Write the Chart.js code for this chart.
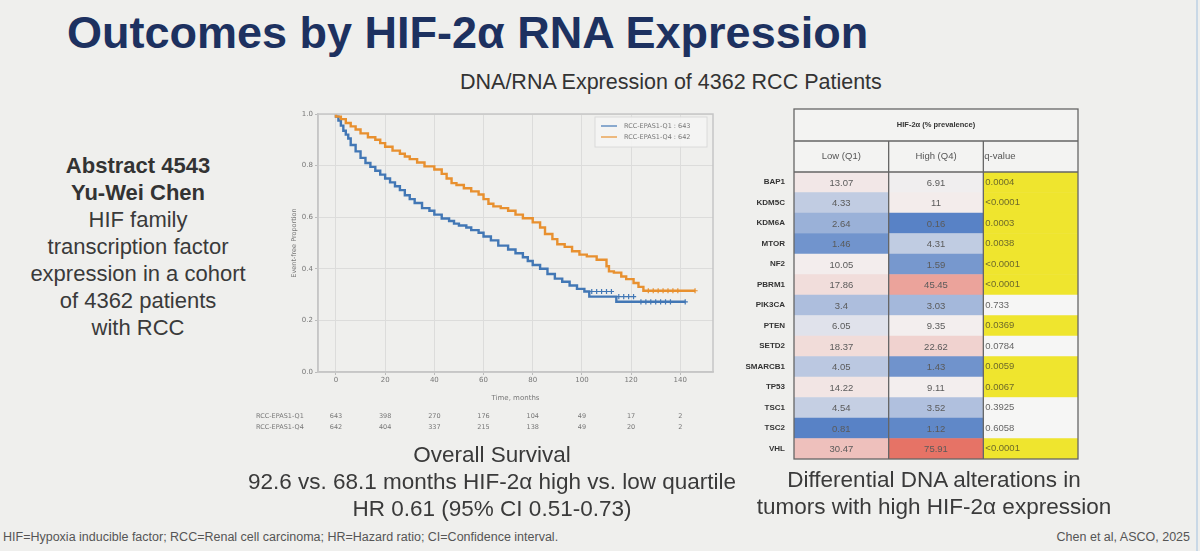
<!DOCTYPE html>
<html>
<head>
<meta charset="utf-8">
<script src="https://cdn.jsdelivr.net/npm/chart.js@4.4.1/dist/chart.umd.min.js"></script>
<style>
  body { margin: 0; width: 1200px; height: 551px; background: #efefed; position: relative; overflow: hidden;
         font-family: "Liberation Sans", Arial, sans-serif; color: #3a3a3a; }
  .abs { position: absolute; white-space: nowrap; }
  #title { left: 67px; top: 10px; font-size: 45px; line-height: 45px; font-weight: bold; color: #1d3160; }
  #subtitle { left: 460px; top: 72px; font-size: 21.5px; line-height: 21.5px; color: #333; }
  #abstract { left: 0; top: 152px; width: 276px; text-align: center; font-size: 22px; line-height: 27px; }
  #abstract b { color: #333; }
  #osCaption { left: 242px; top: 441px; width: 500px; text-align: center; font-size: 22.5px; line-height: 27px; }
  #dnaCaption { left: 734px; top: 466px; width: 400px; text-align: center; font-size: 22.5px; line-height: 27px; }
  #footLeft { left: 3px; top: 530px; font-size: 12.5px; color: #555; }
  #footRight { right: 10px; top: 530px; font-size: 12.5px; color: #555; }
  #km { position: absolute; left: 240px; top: 100px; }
  #heat { position: absolute; left: 740px; top: 100px; }
  #edge { position: absolute; left: 1196px; top: 0; width: 2px; height: 551px; background: #c9d8e6; }
</style>
</head>
<body>
<div id="title" class="abs">Outcomes by HIF-2α RNA Expression</div>
<div id="subtitle" class="abs">DNA/RNA Expression of 4362 RCC Patients</div>
<div id="abstract" class="abs"><b>Abstract 4543</b><br><b>Yu-Wei Chen</b><br>HIF family<br>transcription factor<br>expression in a cohort<br>of 4362 patients<br>with RCC</div>
<canvas id="km" width="480" height="345"></canvas>
<canvas id="heat" width="350" height="365"></canvas>
<div id="osCaption" class="abs">Overall Survival<br>92.6 vs. 68.1 months HIF-2α high vs. low quartile<br>HR 0.61 (95% CI 0.51-0.73)</div>
<div id="dnaCaption" class="abs">Differential DNA alterations in<br>tumors with high HIF-2α expression</div>
<div id="footLeft" class="abs">HIF=Hypoxia inducible factor; RCC=Renal cell carcinoma; HR=Hazard ratio; CI=Confidence interval.</div>
<div id="footRight" class="abs">Chen et al, ASCO, 2025</div>
<div id="edge"></div>

<script>
// Kaplan-Meier curves
const q1Times = [0, 1, 2, 3, 4, 5, 6, 8, 10, 12, 14, 16, 18, 20, 22, 24, 26, 28, 30, 32, 35, 38, 40, 43, 46, 48, 50, 53, 55, 58, 60, 63, 66, 70, 73, 76, 78, 80, 83, 86, 89, 92, 95, 98, 101, 103, 114, 123, 142];
const q1Surv  = [1.0, 0.99, 0.975, 0.955, 0.935, 0.92, 0.905, 0.88, 0.855, 0.83, 0.81, 0.795, 0.78, 0.765, 0.75, 0.735, 0.72, 0.705, 0.685, 0.67, 0.655, 0.635, 0.625, 0.61, 0.595, 0.585, 0.575, 0.568, 0.56, 0.55, 0.54, 0.525, 0.51, 0.49, 0.475, 0.46, 0.445, 0.43, 0.415, 0.4, 0.38, 0.362, 0.35, 0.335, 0.322, 0.312, 0.292, 0.272, 0.272];
const q4Times = [0, 2, 4, 6, 8, 10, 13, 16, 18, 20, 23, 26, 28, 30, 33, 36, 40, 43, 45, 47, 49, 52, 55, 58, 60, 62, 64, 67, 70, 73, 76, 80, 83, 85, 88, 90, 93, 96, 99, 102, 106, 110, 111, 113, 116, 118, 121, 123, 125, 126, 146];
const q4Surv  = [1.0, 0.99, 0.98, 0.965, 0.952, 0.94, 0.925, 0.91, 0.9, 0.887, 0.873, 0.858, 0.846, 0.835, 0.825, 0.812, 0.797, 0.785, 0.768, 0.75, 0.732, 0.725, 0.712, 0.7, 0.688, 0.67, 0.652, 0.642, 0.635, 0.625, 0.61, 0.596, 0.58, 0.56, 0.535, 0.515, 0.495, 0.485, 0.468, 0.455, 0.448, 0.435, 0.41, 0.39, 0.385, 0.37, 0.36, 0.345, 0.33, 0.315, 0.315];

// censor marks visible on the tails
const q1CensorT = [104, 106, 108, 110, 112, 115, 117, 119, 121, 124, 126, 128, 130, 132, 134, 136, 142];
const q1CensorS = [0.312, 0.312, 0.312, 0.312, 0.312, 0.292, 0.292, 0.292, 0.292, 0.272, 0.272, 0.272, 0.272, 0.272, 0.272, 0.272, 0.272];
const q4CensorT = [127, 129, 131, 133, 135, 137, 139, 146];
const q4CensorS = [0.315, 0.315, 0.315, 0.315, 0.315, 0.315, 0.315, 0.315];

const seriesLabels = ['RCC-EPAS1-Q1 : 643', 'RCC-EPAS1-Q4 : 642'];
const xTicks = [0, 20, 40, 60, 80, 100, 120, 140];
const yTicks = [0, 0.2, 0.4, 0.6, 0.8, 1.0];
const atRiskLabels = ['RCC-EPAS1-Q1', 'RCC-EPAS1-Q4'];
const atRiskQ1 = [643, 398, 270, 176, 104, 49, 17, 2];
const atRiskQ4 = [642, 404, 337, 215, 138, 49, 20, 2];

// Heatmap table
const genes  = ['BAP1', 'KDM5C', 'KDM6A', 'MTOR', 'NF2', 'PBRM1', 'PIK3CA', 'PTEN', 'SETD2', 'SMARCB1', 'TP53', 'TSC1', 'TSC2', 'VHL'];
const lowQ1  = [13.07, 4.33, 2.64, 1.46, 10.05, 17.86, 3.4, 6.05, 18.37, 4.05, 14.22, 4.54, 0.81, 30.47];
const highQ4 = [6.91, 11, 0.16, 4.31, 1.59, 45.45, 3.03, 9.35, 22.62, 1.43, 9.11, 3.52, 1.12, 75.91];
const qValues = ['0.0004', '<0.0001', '0.0003', '0.0038', '<0.0001', '<0.0001', '0.733', '0.0369', '0.0784', '0.0059', '0.0067', '0.3925', '0.6058', '<0.0001'];
const heatColumns = ['Low (Q1)', 'High (Q4)', 'q-value'];

const BLUE = '#4277b5';
const ORANGE = '#e8902f';
const SMALL_FONT = '"DejaVu Sans", sans-serif';

function kmPoints(ts, ss) {
  return ts.map((t, i) => ({ x: t, y: ss[i] }));
}

// in-plot legend + number-at-risk rows
const kmExtras = {
  id: 'kmExtras',
  afterDraw(chart) {
    const ctx = chart.ctx;
    const area = chart.chartArea;
    const x = chart.scales.x;
    ctx.save();
    // legend box
    const lx = area.right - 118, ly = area.top + 3;
    ctx.fillStyle = 'rgba(244,244,243,0.9)';
    ctx.strokeStyle = '#dadada';
    ctx.lineWidth = 1;
    ctx.fillRect(lx, ly, 112, 30);
    ctx.strokeRect(lx, ly, 112, 30);
    ctx.font = '6.5px ' + SMALL_FONT;
    ctx.textBaseline = 'middle';
    [BLUE, ORANGE].forEach((c, i) => {
      const yy = ly + 9 + i * 11;
      ctx.strokeStyle = c;
      ctx.lineWidth = 1.2;
      ctx.beginPath();
      ctx.moveTo(lx + 6, yy);
      ctx.lineTo(lx + 22, yy);
      ctx.stroke();
      ctx.fillStyle = '#777';
      ctx.textAlign = 'left';
      ctx.fillText(seriesLabels[i], lx + 29, yy);
    });
    // number at risk
    ctx.fillStyle = '#777';
    [atRiskQ1, atRiskQ4].forEach((row, r) => {
      const yy = area.bottom + 44 + r * 11;
      ctx.textAlign = 'left';
      ctx.fillText(atRiskLabels[r], area.left - 62, yy);
      ctx.textAlign = 'center';
      row.forEach((n, i) => ctx.fillText(String(n), x.getPixelForValue(xTicks[i]), yy));
    });
    ctx.restore();
  }
};

new Chart(document.getElementById('km'), {
  type: 'line',
  data: {
    datasets: [
      { label: seriesLabels[0], data: kmPoints(q1Times, q1Surv), borderColor: BLUE, borderWidth: 2.4, stepped: 'after', pointRadius: 0, order: 2 },
      { label: seriesLabels[1], data: kmPoints(q4Times, q4Surv), borderColor: ORANGE, borderWidth: 2.4, stepped: 'after', pointRadius: 0, order: 1 },
      { type: 'scatter', data: kmPoints(q1CensorT, q1CensorS), borderColor: BLUE, pointStyle: 'cross', pointRadius: 2.6, borderWidth: 1.2, showLine: false },
      { type: 'scatter', data: kmPoints(q4CensorT, q4CensorS), borderColor: ORANGE, pointStyle: 'cross', pointRadius: 2.6, borderWidth: 1.2, showLine: false }
    ]
  },
  options: {
    responsive: false,
    animation: false,
    layout: { padding: { left: 50, right: 7, top: 14, bottom: 43 } },
    plugins: { legend: { display: false }, tooltip: { enabled: false } },
    scales: {
      x: {
        type: 'linear', min: -7.3, max: 153.3,
        afterBuildTicks: axis => { axis.ticks = xTicks.map(v => ({ value: v })); },
        afterFit: scale => { scale.height = 30; },
        ticks: { font: { size: 7, family: SMALL_FONT }, color: '#777', padding: 1, maxRotation: 0 },
        grid: { color: '#dcdcdb', lineWidth: 1, tickLength: 3, tickColor: '#bbb' },
        border: { color: '#c6c6c6', width: 1.5 },
        title: { display: true, text: 'Time, months', font: { size: 7, family: SMALL_FONT }, color: '#777', padding: 0 }
      },
      y: {
        min: 0, max: 1,
        afterBuildTicks: axis => { axis.ticks = yTicks.map(v => ({ value: v })); },
        afterFit: scale => { scale.width = 28; },
        ticks: { font: { size: 7, family: SMALL_FONT }, color: '#777', padding: 2, callback: v => v.toFixed(1) },
        grid: { color: '#dcdcdb', lineWidth: 1, tickLength: 3, tickColor: '#bbb' },
        border: { color: '#c6c6c6', width: 1.5 },
        title: { display: true, text: 'Event-free Proportion', font: { size: 6.5, family: SMALL_FONT }, color: '#777', padding: 0 }
      }
    }
  },
  plugins: [kmExtras, {
    id: 'frame',
    afterDraw(chart) {
      const a = chart.chartArea, ctx = chart.ctx;
      ctx.save();
      ctx.strokeStyle = '#c6c6c6';
      ctx.lineWidth = 1.5;
      ctx.strokeRect(a.left, a.top, a.right - a.left, a.bottom - a.top);
      ctx.restore();
    }
  }]
});

// diverging blue-white-red scale on log prevalence
function mix(c1, c2, t) {
  return 'rgb(' + c1.map((v, i) => Math.round(v + (c2[i] - v) * t)).join(',') + ')';
}
function heatColor(v) {
  const mid = Math.log10(7);
  const lv = Math.log10(v);
  const white = [243, 240, 240];
  if (lv < mid) {
    const t = Math.pow(Math.min(1, (mid - lv) / 0.85), 0.8);
    return mix(white, [88, 130, 198], t);
  }
  const t = Math.pow(Math.min(1, (lv - mid) / (Math.log10(76) - mid)), 2.0);
  return mix(white, [230, 115, 102], t);
}
function isSig(q) {
  return parseFloat(q.replace('<', '')) < 0.05;
}

const heatText = {
  id: 'heatText',
  afterDatasetsDraw(chart) {
    const ctx = chart.ctx;
    const a = chart.chartArea;
    const xs = chart.scales.x;
    ctx.save();
    ctx.font = '9.5px "Liberation Sans", Arial, sans-serif';
    ctx.textBaseline = 'middle';
    chart.data.datasets.forEach((ds, d) => {
      chart.getDatasetMeta(d).data.forEach((bar, i) => {
        if (d < 2) {
          const v = d === 0 ? lowQ1[i] : highQ4[i];
          ctx.fillStyle = '#5a5a5a';
          ctx.textAlign = 'center';
          ctx.fillText(String(v), (bar.x + bar.base) / 2, bar.y + 1);
        } else {
          ctx.fillStyle = isSig(qValues[i]) ? '#6e6a2a' : '#666';
          ctx.textAlign = 'left';
          ctx.fillText(qValues[i], bar.base + 2, bar.y);
        }
      });
    });
    // table frame and header
    const x0 = xs.getPixelForValue(0), x1 = xs.getPixelForValue(1), x2 = xs.getPixelForValue(2), x3 = xs.getPixelForValue(3);
    const top = a.top - 63, mid = a.top - 31;
    ctx.fillStyle = '#f3f3f2';
    ctx.fillRect(x0, top, x3 - x0, a.top - top);
    ctx.strokeStyle = '#666';
    ctx.lineWidth = 1.3;
    ctx.strokeRect(x0, top, x3 - x0, a.bottom - top);
    ctx.beginPath();
    ctx.moveTo(x0, mid); ctx.lineTo(x3, mid);
    ctx.moveTo(x0, a.top); ctx.lineTo(x3, a.top);
    [x1, x2].forEach(xx => { ctx.moveTo(xx, mid); ctx.lineTo(xx, a.bottom); });
    ctx.stroke();
    ctx.fillStyle = '#333';
    ctx.font = 'bold 7.5px "Liberation Sans", Arial, sans-serif';
    ctx.textAlign = 'center';
    ctx.fillText('HIF-2α (% prevalence)', (x0 + x3) / 2, (top + mid) / 2);
    ctx.font = '9.5px "Liberation Sans", Arial, sans-serif';
    ctx.fillStyle = '#555';
    ctx.fillText(heatColumns[0], (x0 + x1) / 2, (mid + a.top) / 2);
    ctx.fillText(heatColumns[1], (x1 + x2) / 2, (mid + a.top) / 2);
    ctx.textAlign = 'left';
    ctx.fillText(heatColumns[2], x2 + 1, (mid + a.top) / 2);
    ctx.restore();
  }
};

new Chart(document.getElementById('heat'), {
  type: 'bar',
  data: {
    labels: genes,
    datasets: [
      { label: heatColumns[0], data: genes.map(() => [0, 1]), backgroundColor: lowQ1.map(heatColor) },
      { label: heatColumns[1], data: genes.map(() => [1, 2]), backgroundColor: highQ4.map(heatColor) },
      { label: heatColumns[2], data: genes.map(() => [2, 3]), backgroundColor: qValues.map(q => isSig(q) ? '#efe52e' : '#f6f6f5') }
    ]
  },
  options: {
    indexAxis: 'y',
    responsive: false,
    animation: false,
    layout: { padding: { left: 0, right: 12, top: 72, bottom: 6 } },
    datasets: { bar: { grouped: false, barPercentage: 1, categoryPercentage: 1, borderWidth: 0, borderSkipped: false } },
    plugins: { legend: { display: false }, tooltip: { enabled: false } },
    scales: {
      x: { type: 'linear', min: 0, max: 3, display: false },
      y: {
        afterFit: scale => { scale.width = 54; },
        ticks: { font: { size: 8, weight: 'bold', family: '"Liberation Sans", Arial, sans-serif' }, color: '#333', padding: 1, autoSkip: false },
        grid: { display: false },
        border: { display: false }
      }
    }
  },
  plugins: [heatText]
});
</script>
</body>
</html>
